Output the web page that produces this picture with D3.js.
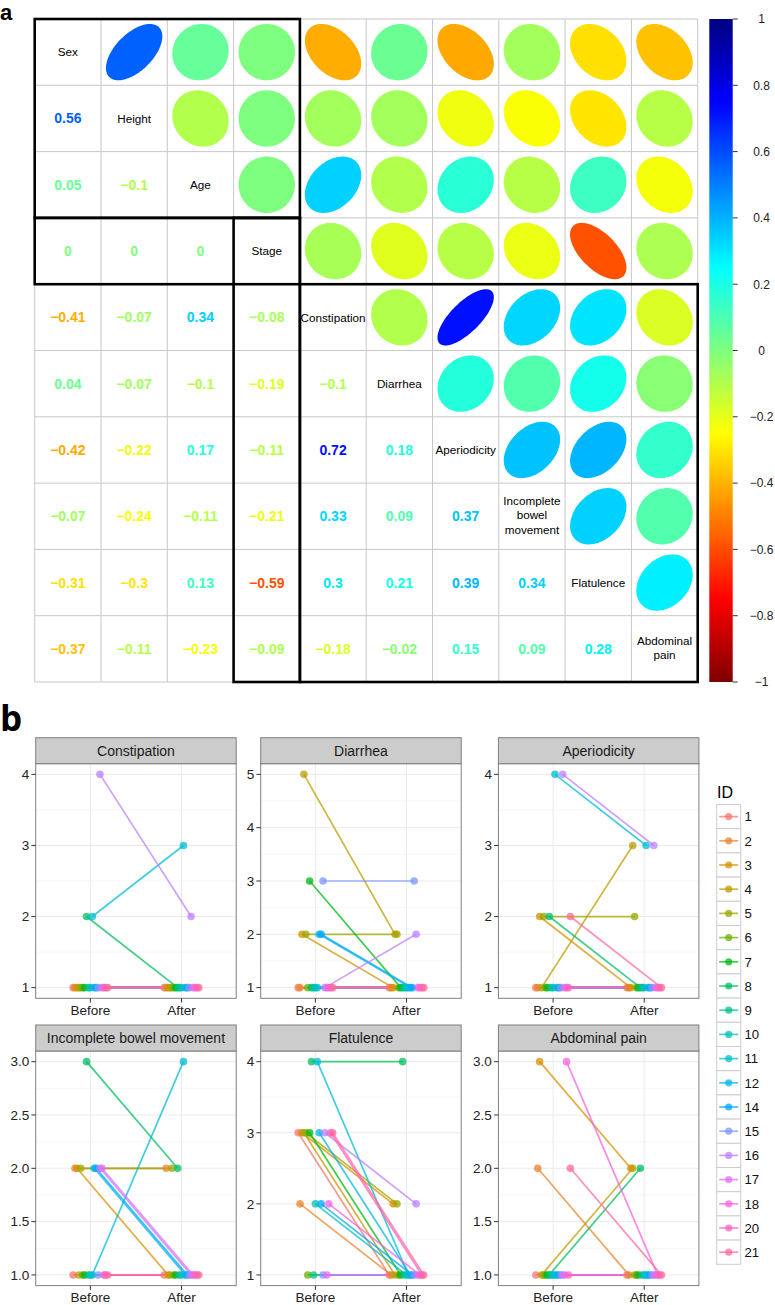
<!DOCTYPE html>
<html>
<head>
<meta charset="utf-8">
<script src="https://cdn.jsdelivr.net/npm/d3@7"></script>
<style>
  html, body { margin: 0; padding: 0; background: #fff; }
  svg { display: block; font-family: "Liberation Sans", Arial, sans-serif; }
</style>
</head>
<body>
<svg id="chart" width="775" height="1305"></svg>
<script>
// ---------------- DATA ----------------
const variables = ["Sex", "Height", "Age", "Stage", "Constipation", "Diarrhea",
  "Aperiodicity", "Incomplete bowel movement", "Flatulence", "Abdominal pain"];
const diagLabels = [["Sex"], ["Height"], ["Age"], ["Stage"], ["Constipation"], ["Diarrhea"],
  ["Aperiodicity"], ["Incomplete", "bowel", "movement"], ["Flatulence"], ["Abdominal", "pain"]];
// lower triangle of the correlation matrix (row i, columns 0..i-1)
const corrLower = [
  [],
  [0.56],
  [0.05, -0.1],
  [0, 0, 0],
  [-0.41, -0.07, 0.34, -0.08],
  [0.04, -0.07, -0.1, -0.19, -0.1],
  [-0.42, -0.22, 0.17, -0.11, 0.72, 0.18],
  [-0.07, -0.24, -0.11, -0.21, 0.33, 0.09, 0.37],
  [-0.31, -0.3, 0.13, -0.59, 0.3, 0.21, 0.39, 0.34],
  [-0.37, -0.11, -0.23, -0.09, -0.18, -0.02, 0.15, 0.09, 0.28]
];
// cluster rectangles: [firstCol, firstRow, lastCol+1, lastRow+1]
const clusterRects = [[0, 0, 4, 3], [0, 3, 4, 4], [3, 3, 4, 10], [4, 4, 10, 10]];
const colorbarTicks = ["1", "0.8", "0.6", "0.4", "0.2", "0", "-0.2", "-0.4", "-0.6", "-0.8", "-1"];
const jetColors = ["#7F0000", "red", "#FF7F00", "yellow", "#7FFF7F", "cyan", "#007FFF", "blue", "#00007F"];

const ids = [1, 2, 3, 4, 5, 6, 7, 8, 9, 10, 11, 12, 14, 15, 16, 17, 18, 20, 21];
const times = ["Before", "After"];
const symptoms = ["Constipation", "Diarrhea", "Aperiodicity",
  "Incomplete bowel movement", "Flatulence", "Abdominal pain"];
const constipationBefore = [1,1,1,1,1,1,1,2,1,1,2,1,1,1,4,1,1,1,1];
const constipationAfter  = [1,1,1,1,1,1,1,1,1,1,3,1,1,1,2,1,1,1,1];
const diarrheaBefore     = [1,1,2,5,2,1,3,1,1,1,1,2,2,3,1,1,1,1,1];
const diarrheaAfter      = [1,1,1,2,2,1,1,1,1,1,1,1,1,3,2,1,1,1,1];
const aperiodicityBefore = [1,1,2,1,2,1,1,2,1,1,4,1,1,1,4,1,1,1,2];
const aperiodicityAfter  = [1,1,1,3,2,1,1,1,1,1,3,1,1,1,3,1,1,1,1];
const incompleteBefore   = [1,2,2,1,2,1,1,3,1,1,1,2,2,1,2,2,1,1,1];
const incompleteAfter    = [1,2,1,1,2,1,1,2,1,1,3,1,1,1,1,1,1,1,1];
const flatulenceBefore   = [3,2,3,3,3,1,3,4,1,2,4,3,2,1,3,1,2,3,3];
const flatulenceAfter    = [1,1,2,1,2,1,1,4,1,1,1,1,1,1,2,1,1,1,1];
const abdominalBefore    = [1,2,3,1,1,1,1,1,1,1,1,1,1,1,1,1,3,1,2];
const abdominalAfter     = [1,1,2,2,1,1,1,2,1,1,1,1,1,1,1,1,1,1,1];
const yTickLabels = [
  ["1", "2", "3", "4"],
  ["1", "2", "3", "4", "5"],
  ["1", "2", "3", "4"],
  ["1.0", "1.5", "2.0", "2.5", "3.0"],
  ["1", "2", "3", "4"],
  ["1.0", "1.5", "2.0", "2.5", "3.0"]
];
const symptomData = [
  [constipationBefore, constipationAfter],
  [diarrheaBefore, diarrheaAfter],
  [aperiodicityBefore, aperiodicityAfter],
  [incompleteBefore, incompleteAfter],
  [flatulenceBefore, flatulenceAfter],
  [abdominalBefore, abdominalAfter]
];

// ---------------- HELPERS ----------------
// R grDevices::hcl (polar CIE-LUV) -> hex, as used by ggplot's hue palette
function hclR(h, c, l) {
  const WY = 100, Wu = 0.1978398, Wv = 0.4683363;
  const hr = h * Math.PI / 180;
  const U = c * Math.cos(hr), V = c * Math.sin(hr);
  const Y = WY * (l > 7.999592 ? Math.pow((l + 16) / 116, 3) : l / 903.3);
  const u = U / (13 * l) + Wu, v = V / (13 * l) + Wv;
  const X = 9 * Y * u / (4 * v);
  const Z = -X / 3 - 5 * Y + 3 * Y / v;
  const g = t => t > 0.00304 ? 1.055 * Math.pow(t, 1 / 2.4) - 0.055 : 12.92 * t;
  const r = g((3.240479 * X - 1.537150 * Y - 0.498535 * Z) / WY);
  const gg = g((-0.969256 * X + 1.875992 * Y + 0.041556 * Z) / WY);
  const b = g((0.055648 * X - 0.204043 * Y + 1.057311 * Z) / WY);
  const cl = t => Math.round(Math.max(0, Math.min(1, t)) * 255);
  return d3.rgb(cl(r), cl(gg), cl(b)).formatHex();
}
const huePal = n => d3.range(n).map(i => hclR(15 + 360 * i / n, 100, 65));
const idColor = d3.scaleOrdinal().domain(ids).range(huePal(ids.length));
const fmtNum = v => (v < 0 ? "\u2212" : "") + String(Math.abs(v));

const svg = d3.select("#chart");

// ---------------- PANEL A : correlation matrix ----------------
const n = variables.length;
const mLeft = 34.7, mTop = 19, cell = 66.3;
const mx = d3.scaleLinear().domain([0, n]).range([mLeft, mLeft + n * cell]);
const my = d3.scaleLinear().domain([0, n]).range([mTop, mTop + n * cell]);
const corrColor = d3.scaleLinear()
  .domain(d3.range(jetColors.length).map(i => -1 + 2 * i / (jetColors.length - 1)))
  .range(jetColors).interpolate(d3.interpolateRgb);
const corrAt = (i, j) => i > j ? corrLower[i][j] : corrLower[j][i];

svg.append("text").attr("x", 0).attr("y", 20)
  .attr("font-family", "'Liberation Sans', Arial, sans-serif").attr("font-weight", 700)
  .attr("font-size", 22).attr("fill", "#000").text("a");

const gA = svg.append("g");
// grid
gA.selectAll("line.gv").data(d3.range(n + 1)).join("line")
  .attr("x1", k => mx(k)).attr("x2", k => mx(k)).attr("y1", my(0)).attr("y2", my(n))
  .attr("stroke", "#C8C8C8").attr("stroke-width", 1);
gA.selectAll("line.gh").data(d3.range(n + 1)).join("line")
  .attr("y1", k => my(k)).attr("y2", k => my(k)).attr("x1", mx(0)).attr("x2", mx(n))
  .attr("stroke", "#C8C8C8").attr("stroke-width", 1);

const cells = [];
for (let i = 0; i < n; i++) for (let j = 0; j < n; j++) cells.push({ i, j });

// ellipses (upper)
const ellLine = d3.line();
gA.selectAll("path.ell").data(cells.filter(c => c.j > c.i)).join("path")
  .attr("d", c => {
    const r = corrAt(c.i, c.j);
    const a = Math.acos(r);
    const cx = mx(c.j + 0.5), cy = my(c.i + 0.5);
    const s = 0.85 * cell;
    const pts = d3.range(0, 121).map(k => {
      const t = 2 * Math.PI * k / 120;
      return [cx + Math.cos(t + a / 2) / 2 * s, cy - Math.cos(t - a / 2) / 2 * s];
    });
    return ellLine(pts) + "Z";
  })
  .attr("fill", c => corrColor(corrAt(c.i, c.j)));

// numbers (lower)
gA.selectAll("text.num").data(cells.filter(c => c.i > c.j)).join("text")
  .attr("x", c => mx(c.j + 0.5)).attr("y", c => my(c.i + 0.5) + 5)
  .attr("text-anchor", "middle").attr("font-weight", 700).attr("font-size", 14)
  .attr("fill", c => corrColor(corrAt(c.i, c.j)))
  .text(c => fmtNum(corrAt(c.i, c.j)));

// diagonal labels
diagLabels.forEach((lines, k) => {
  const lh = 14.2;
  const t = gA.append("text").attr("text-anchor", "middle").attr("font-size", 11.7).attr("fill", "#000");
  lines.forEach((ln, q) => {
    t.append("tspan").attr("x", mx(k + 0.5))
      .attr("y", my(k + 0.5) + 4.2 + (q - (lines.length - 1) / 2) * lh - (lines.length > 1 ? 1 : 0))
      .text(ln);
  });
});

// cluster rectangles
gA.selectAll("rect.cl").data(clusterRects).join("rect")
  .attr("x", d => mx(d[0])).attr("y", d => my(d[1]))
  .attr("width", d => mx(d[2]) - mx(d[0])).attr("height", d => my(d[3]) - my(d[1]))
  .attr("fill", "none").attr("stroke", "#000").attr("stroke-width", 2.6);

// colorbar
const cbX = 709.3, cbW = 23.4;
const cbY = d3.scaleLinear().domain([-1, 1]).range([my(n), my(0)]);
const grad = svg.append("defs").append("linearGradient").attr("id", "cbgrad")
  .attr("x1", 0).attr("y1", 1).attr("x2", 0).attr("y2", 0);
grad.selectAll("stop").data(d3.range(0, 201)).join("stop")
  .attr("offset", k => k / 200).attr("stop-color", k => corrColor(-1 + 2 * k / 200));
svg.append("rect").attr("x", cbX).attr("y", cbY(1)).attr("width", cbW)
  .attr("height", cbY(-1) - cbY(1)).attr("fill", "url(#cbgrad)");
const cbAxis = svg.append("g");
cbAxis.selectAll("line").data(colorbarTicks).join("line")
  .attr("x1", cbX + cbW).attr("x2", cbX + cbW + 5)
  .attr("y1", d => cbY(+d)).attr("y2", d => cbY(+d)).attr("stroke", "#333").attr("stroke-width", 1);
cbAxis.selectAll("text").data(colorbarTicks).join("text")
  .attr("x", 761.5).attr("y", d => cbY(+d) + 4.3).attr("text-anchor", "middle")
  .attr("font-size", 12).attr("fill", "#222")
  .text(d => d.replace("-", "\u2212"));

// ---------------- PANEL B : paired plots ----------------
svg.append("text").attr("x", 0).attr("y", 731)
  .attr("font-family", "'Open Sans', sans-serif").attr("font-weight", 700)
  .attr("font-size", 35).attr("fill", "#000").text("b");

const panelLeft = [35.7, 260.7, 498.4], panelW = 200.5;
const stripTop = [737.7, 1025], stripH = 26, panelH = 234.6;
const nId = ids.length, dodgeW = 0.4;

symptoms.forEach((sym, si) => {
  const col = si % 3, row = Math.floor(si / 3);
  const x0 = panelLeft[col], sTop = stripTop[row], pTop = sTop + stripH, pBot = pTop + panelH;
  const tickVals = yTickLabels[si].map(Number);
  const [before, after] = symptomData[si];
  const all = before.concat(after);
  const lo = d3.min(all), hi = d3.max(all), ex = (hi - lo) * 0.05;
  const y = d3.scaleLinear().domain([lo - ex, hi + ex]).range([pBot, pTop]);
  const x = d3.scalePoint().domain(times).range([x0, x0 + panelW]).padding(0.6);
  const dodge = i => (i - (nId - 1) / 2) * (dodgeW / nId) * x.step();

  const g = svg.append("g");
  g.append("rect").attr("x", x0).attr("y", pTop).attr("width", panelW).attr("height", panelH).attr("fill", "#fff");
  // minor grid
  const minors = d3.range(tickVals.length - 1).map(k => (tickVals[k] + tickVals[k + 1]) / 2);
  g.selectAll("line.mn").data(minors).join("line")
    .attr("x1", x0).attr("x2", x0 + panelW).attr("y1", d => y(d)).attr("y2", d => y(d))
    .attr("stroke", "#F5F5F5").attr("stroke-width", 0.8);
  // major grid
  g.selectAll("line.mj").data(tickVals).join("line")
    .attr("x1", x0).attr("x2", x0 + panelW).attr("y1", d => y(d)).attr("y2", d => y(d))
    .attr("stroke", "#EBEBEB").attr("stroke-width", 1);
  g.selectAll("line.mjx").data(times).join("line")
    .attr("x1", d => x(d)).attr("x2", d => x(d)).attr("y1", pTop).attr("y2", pBot)
    .attr("stroke", "#EBEBEB").attr("stroke-width", 1);

  // lines
  const lineGen = d3.line();
  g.selectAll("path.id").data(ids).join("path")
    .attr("d", (id, i) => lineGen([[x("Before") + dodge(i), y(before[i])], [x("After") + dodge(i), y(after[i])]]))
    .attr("stroke", id => idColor(id)).attr("stroke-width", 1.7).attr("fill", "none")
    .attr("stroke-opacity", 0.75);
  // points
  const pts = [];
  ids.forEach((id, i) => {
    pts.push({ id, i, t: "Before", v: before[i] });
    pts.push({ id, i, t: "After", v: after[i] });
  });
  g.selectAll("circle").data(pts).join("circle")
    .attr("cx", d => x(d.t) + dodge(d.i)).attr("cy", d => y(d.v)).attr("r", 3.8)
    .attr("fill", d => idColor(d.id)).attr("fill-opacity", 0.75);

  // border
  g.append("rect").attr("x", x0).attr("y", pTop).attr("width", panelW).attr("height", panelH)
    .attr("fill", "none").attr("stroke", "#7F7F7F").attr("stroke-width", 1);
  // strip
  g.append("rect").attr("x", x0).attr("y", sTop).attr("width", panelW).attr("height", stripH)
    .attr("fill", "#CCCCCC").attr("stroke", "#7F7F7F").attr("stroke-width", 1);
  g.append("text").attr("x", x0 + panelW / 2).attr("y", sTop + stripH / 2 + 5)
    .attr("text-anchor", "middle").attr("font-size", 14).attr("fill", "#1A1A1A").text(sym);

  // y axis
  g.selectAll("line.yt").data(tickVals).join("line")
    .attr("x1", x0 - 4.3).attr("x2", x0).attr("y1", d => y(d)).attr("y2", d => y(d))
    .attr("stroke", "#333").attr("stroke-width", 1);
  g.selectAll("text.yl").data(yTickLabels[si]).join("text")
    .attr("x", x0 - 6.5).attr("y", d => y(+d) + 4.8).attr("text-anchor", "end")
    .attr("font-size", 13.5).attr("fill", "#222").text(d => d);
  // x axis
  g.selectAll("line.xt").data(times).join("line")
    .attr("x1", d => x(d)).attr("x2", d => x(d)).attr("y1", pBot).attr("y2", pBot + 4.3)
    .attr("stroke", "#333").attr("stroke-width", 1);
  g.selectAll("text.xl").data(times).join("text")
    .attr("x", d => x(d)).attr("y", pBot + 16.8).attr("text-anchor", "middle")
    .attr("font-size", 13.5).attr("fill", "#222").text(d => d);
});

// legend
const lg = svg.append("g");
lg.append("text").attr("x", 717).attr("y", 798).attr("font-size", 16).attr("fill", "#000").text("ID");
const keyTop = 804.5, keyH = 24.2, keyX = 716.7, keyW = 24;
ids.forEach((id, i) => {
  const ky = keyTop + i * keyH;
  lg.append("rect").attr("x", keyX).attr("y", ky).attr("width", keyW).attr("height", keyH)
    .attr("fill", "#fff").attr("stroke", "#CCCCCC").attr("stroke-width", 1);
  lg.append("line").attr("x1", keyX + 2.5).attr("x2", keyX + keyW - 2.5)
    .attr("y1", ky + keyH / 2).attr("y2", ky + keyH / 2)
    .attr("stroke", idColor(id)).attr("stroke-width", 1.7).attr("stroke-opacity", 0.75);
  lg.append("circle").attr("cx", keyX + keyW / 2).attr("cy", ky + keyH / 2).attr("r", 3.6)
    .attr("fill", idColor(id)).attr("fill-opacity", 0.75);
  lg.append("text").attr("x", 744.5).attr("y", ky + keyH / 2 + 4.7)
    .attr("font-size", 13.2).attr("fill", "#111").text(id);
});
</script>
</body>
</html>
